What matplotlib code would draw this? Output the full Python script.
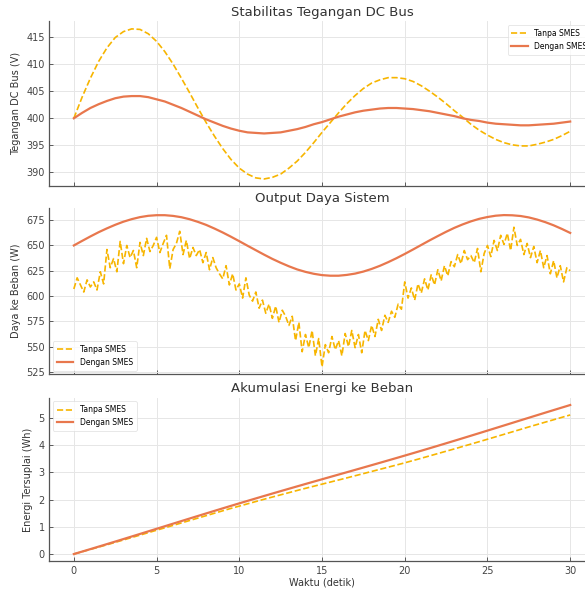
import numpy as np
import matplotlib.pyplot as plt

# --- data ---
t_half = np.arange(0, 30.01, 0.5)
t_fine = np.arange(0, 30.01, 0.2)

voltage_tanpa = [
    400.0, 403.9, 407.4, 410.5, 413.0, 414.9, 416.0, 416.5, 416.4, 415.6,
    414.2, 412.3, 410.0, 407.4, 404.7, 401.9, 399.2, 396.7, 394.4, 392.4,
    390.8, 389.7, 389.0, 388.8, 389.1, 389.7, 390.8, 392.1, 393.7, 395.5,
    397.4, 399.2, 401.0, 402.7, 404.2, 405.5, 406.5, 407.1, 407.5, 407.5,
    407.3, 406.8, 406.0, 405.0, 403.9, 402.7, 401.4, 400.2, 398.9, 397.8,
    396.9, 396.1, 395.5, 395.1, 394.9, 394.9, 395.2, 395.6, 396.1, 396.8,
    397.6,
]
voltage_dengan = [
    400.0, 401.0, 401.9, 402.6, 403.2, 403.7, 404.0, 404.1, 404.1, 403.9,
    403.5, 403.1, 402.5, 401.9, 401.2, 400.5, 399.8, 399.2, 398.6, 398.1,
    397.7, 397.4, 397.3, 397.2, 397.3, 397.4, 397.7, 398.0, 398.4, 398.9,
    399.3, 399.8, 400.3, 400.7, 401.1, 401.4, 401.6, 401.8, 401.9, 401.9,
    401.8, 401.7, 401.5, 401.3, 401.0, 400.7, 400.4, 400.0, 399.7, 399.5,
    399.2, 399.0, 398.9, 398.8, 398.7, 398.7, 398.8, 398.9, 399.0, 399.2,
    399.4,
]

power_tanpa = [
    607, 618, 611, 604, 616, 609, 614, 606, 624, 612,
    646, 628, 637, 624, 654, 632, 650, 638, 645, 628,
    653, 640, 657, 644, 650, 658, 643, 652, 660, 627,
    646, 652, 664, 641, 655, 637, 648, 640, 646, 633,
    643, 626, 638, 628, 622, 617, 630, 611, 622, 606,
    612, 598, 618, 601, 595, 604, 588, 596, 583, 592,
    578, 590, 574, 586, 580, 571, 580, 556, 574, 545,
    562, 549, 566, 541, 558, 530, 552, 544, 560, 547,
    556, 541, 563, 550, 566, 549, 562, 544, 566, 556,
    571, 560, 577, 566, 581, 574, 585, 579, 592, 587,
    614, 598, 608, 596, 612, 603, 617, 606, 621, 611,
    626, 615, 630, 620, 634, 629, 641, 632, 645, 636,
    640, 633, 647, 624, 642, 650, 639, 655, 645, 660,
    651, 662, 645, 668, 650, 656, 641, 652, 638, 649,
    633, 645, 628, 640, 622, 635, 618, 630, 614, 628,
    625,
]
power_dengan = [
    650.0, 654.5, 658.9, 663.1, 666.9, 670.4, 673.5, 676.0, 678.0, 679.3,
    679.9, 679.9, 679.2, 677.9, 675.9, 673.3, 670.3, 666.7, 662.8, 658.6,
    654.2, 649.7, 645.3, 640.9, 636.7, 632.9, 629.4, 626.3, 623.9, 622.0,
    620.7, 620.1, 620.1, 620.9, 622.2, 624.2, 626.8, 629.9, 633.5, 637.4,
    641.6, 646.0, 650.5, 655.0, 659.3, 663.5, 667.4, 670.8, 673.8, 676.3,
    678.1, 679.4, 680.0, 679.8, 679.1, 677.7, 675.6, 673.0, 669.9, 666.3,
    662.4,
]

TANPA_COLOR = "#f7b500"
DENGAN_COLOR = "#e8774d"


def cumulative_wh(power, step):
    power = np.asarray(power, dtype=float)
    return np.concatenate([[0.0], np.cumsum(power[:-1] * step)]) / 3600.0


def style_axis(ax):
    ax.grid(True, color="#e6e6e6", linewidth=0.7)
    ax.set_axisbelow(True)
    for side in ("top", "right"):
        ax.spines[side].set_visible(False)
    for side in ("left", "bottom"):
        ax.spines[side].set_color("#555555")
        ax.spines[side].set_linewidth(0.9)
    ax.tick_params(labelsize=7, length=3, width=0.6, colors="#444444",
                   direction="in", pad=3)


def add_legend(ax, loc):
    leg = ax.legend(loc=loc, fontsize=5.5, frameon=True, handlelength=2.2,
                    borderpad=0.5, labelspacing=0.5)
    leg.get_frame().set_edgecolor("#dddddd")
    leg.get_frame().set_linewidth(0.6)


fig = plt.figure(figsize=(5.85, 5.89), dpi=100)
ax_v = fig.add_axes([0.0838, 0.6834, 0.9333, 0.2803])
ax_p = fig.add_axes([0.0838, 0.3642, 0.9333, 0.2835], sharex=ax_v)
ax_e = fig.add_axes([0.0838, 0.0467, 0.9333, 0.2783], sharex=ax_v)

# --- DC bus voltage ---
ax_v.plot(t_half, voltage_tanpa, color=TANPA_COLOR, linestyle="--", linewidth=1.2, label="Tanpa SMES")
ax_v.plot(t_half, voltage_dengan, color=DENGAN_COLOR, linewidth=1.6, label="Dengan SMES")
ax_v.set_title("Stabilitas Tegangan DC Bus", fontsize=9.5, color="#333333", pad=4)
ax_v.set_ylabel("Tegangan DC Bus (V)", fontsize=7, color="#333333")
add_legend(ax_v, "upper right")

# --- power output ---
ax_p.plot(t_fine, power_tanpa, color=TANPA_COLOR, linestyle="--", linewidth=1.2, label="Tanpa SMES")
ax_p.plot(t_half, power_dengan, color=DENGAN_COLOR, linewidth=1.6, label="Dengan SMES")
ax_p.set_title("Output Daya Sistem", fontsize=9.5, color="#333333", pad=4)
ax_p.set_ylabel("Daya ke Beban (W)", fontsize=7, color="#333333")
add_legend(ax_p, "lower left")

# --- cumulative energy ---
ax_e.plot(t_fine, cumulative_wh(power_tanpa, 0.2), color=TANPA_COLOR, linestyle="--", linewidth=1.2, label="Tanpa SMES")
ax_e.plot(t_half, cumulative_wh(power_dengan, 0.5), color=DENGAN_COLOR, linewidth=1.6, label="Dengan SMES")
ax_e.set_title("Akumulasi Energi ke Beban", fontsize=9.5, color="#333333", pad=4)
ax_e.set_ylabel("Energi Tersuplai (Wh)", fontsize=7, color="#333333")
ax_e.set_xlabel("Waktu (detik)", fontsize=7, color="#333333", labelpad=1)
add_legend(ax_e, "upper left")

for ax in (ax_v, ax_p, ax_e):
    style_axis(ax)
for ax in (ax_v, ax_p):
    ax.tick_params(labelbottom=False)

ax_v.set_xticks(range(0, 31, 5))

fig.savefig("out.png", dpi=100)
